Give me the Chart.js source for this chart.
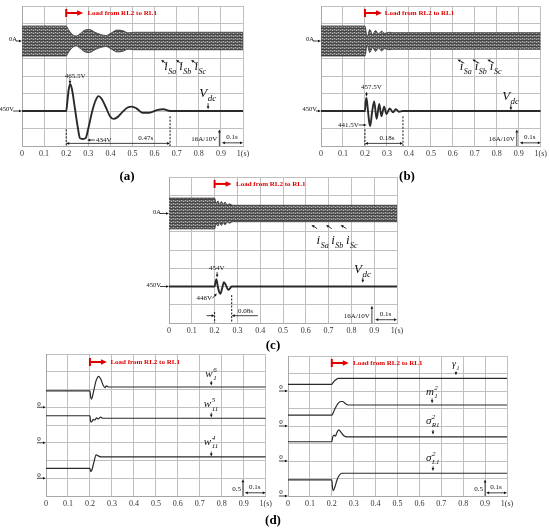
<!DOCTYPE html>
<html><head><meta charset="utf-8">
<script src="https://cdn.jsdelivr.net/npm/chart.js@4.4.1/dist/chart.umd.min.js"></script>
<style>
body{margin:0;background:#fff;}
#wrap{position:relative;width:550px;height:529px;overflow:hidden;}
canvas{position:absolute;}
.lab{position:absolute;font:bold 13px "Liberation Serif",serif;color:#000;transform:translate(-50%,-50%);z-index:5;}
</style></head><body>
<div id="wrap">
<canvas id="ca" width="275" height="162" style="left:0;top:0"></canvas>
<canvas id="cb" width="275" height="162" style="left:275px;top:0"></canvas>
<canvas id="cc" width="290" height="175" style="left:130px;top:165px"></canvas>
<canvas id="cd1" width="275" height="170" style="left:0;top:345px"></canvas>
<canvas id="cd2" width="275" height="170" style="left:275px;top:345px"></canvas>
<div class="lab" style="left:127px;top:176px">(a)</div>
<div class="lab" style="left:407px;top:176px">(b)</div>
<div class="lab" style="left:273px;top:345px">(c)</div>
<div class="lab" style="left:273px;top:520px">(d)</div>
</div>
<script>
// ---------- DATA ----------
const tickLabels = ['0','0.1','0.2','0.3','0.4','0.5','0.6','0.7','0.8','0.9','1(s)'];
const loadText = 'Load from RL2 to RL1';

// (a) DC-link voltage (V) and source-current envelope amplitude (A)
const tVa  = [0,0.2,0.205,0.211,0.218,0.226,0.24,0.252,0.262,0.275,0.288,0.3,0.318,0.333,0.346,0.36,0.38,0.398,0.414,0.432,0.455,0.478,0.497,0.518,0.545,0.575,0.61,0.64,0.67,1];
const vdcA = [450,450,455,462,465.5,462.5,451,441,434.5,434,434.5,440,450,456,458.5,457,452,447,445.5,446.5,449.5,452,452.5,451.5,449,449,450.5,451,450,450];
const tIa  = [0,0.2,0.21,0.225,0.245,0.265,0.285,0.305,0.33,0.355,0.38,0.405,0.43,0.455,0.48,0.51,1];
const iA   = [13.7,13.7,10.5,6.5,4.5,7,10,10.5,8,6,5,7.5,10,9.5,7.5,8,8];

// (b)
const tVb  = [0,0.2,0.203,0.207,0.213,0.219,0.224,0.232,0.242,0.253,0.265,0.275,0.287,0.298,0.313,0.328,0.34,0.355,0.37,1];
const vdcB = [450,450,455,457.5,451,444,441.5,449,455.5,445.5,454,447,452.5,448.3,451.5,449.2,451,449.6,450,450];
const tIb  = [0,0.2,0.21,0.222,0.235,0.248,0.262,0.275,0.29,0.31,0.33,1];
const iB   = [13.7,13.7,4,10.5,6,9.5,6.5,9,7,8,7.6,7.6];

// (c)
const tVc  = [0,0.2,0.204,0.208,0.214,0.22,0.225,0.233,0.241,0.25,0.26,0.268,0.275,1];
const vdcC = [450,450,452.5,454,450,447,446,449,452.4,450.5,448.2,449,450,450];
const tIc  = [0,0.2,0.207,0.215,0.222,0.23,0.238,0.246,0.255,0.265,0.28,1];
const iC   = [13.5,13.5,9,11,8,10.5,8,10,7.5,8.5,7.2,7.2];

// (d) left: weights
const tW6 = [0,0.2,0.203,0.207,0.215,0.228,0.24,0.25,0.26,0.268,0.275,0.285,1];
const w16 = [0.46,0.46,0.3,0.23,0.4,0.75,0.87,0.78,0.62,0.55,0.6,0.57,0.57];
const tW5 = [0,0.2,0.203,0.208,0.215,0.222,0.23,0.238,0.248,0.258,1];
const w115 = [0.76,0.76,0.6,0.59,0.66,0.64,0.7,0.67,0.72,0.69,0.69];
const tW4 = [0,0.2,0.203,0.208,0.218,0.228,0.24,0.25,1];
const w114 = [0.28,0.28,0.19,0.22,0.45,0.66,0.62,0.6,0.6];

// (d) right
const tG  = [0,0.2,0.205,0.212,0.22,0.23,1];
const gam1 = [0.19,0.19,0.23,0.29,0.33,0.36,0.36];
const tM  = [0,0.2,0.205,0.215,0.228,0.24,0.25,0.262,0.275,1];
const m12 = [0.31,0.31,0.36,0.5,0.64,0.7,0.7,0.64,0.6,0.6];
const tSR = [0,0.2,0.204,0.21,0.216,0.224,0.232,0.242,0.255,0.27,1];
const sR12 = [0.55,0.55,0.68,0.74,0.71,0.82,0.89,0.82,0.72,0.69,0.69];
const tSL = [0,0.2,0.203,0.207,0.215,0.225,0.235,0.245,1];
const sL12 = [0.46,0.46,0.25,0.15,0.28,0.48,0.6,0.65,0.65];

// ---------- HELPERS ----------
const FF = '"Liberation Serif", serif';
const pts = (ts, vs, sign=1) => ts.map((t,i)=>({x:t, y:sign*vs[i]}));

function bandPattern(){
  const c=document.createElement('canvas'); c.width=4; c.height=3;
  const g=c.getContext('2d');
  g.fillStyle='#6a6a6a'; g.fillRect(0,0,4,3);
  g.fillStyle='#444'; g.fillRect(0,1,4,1);
  g.fillStyle='#b4b4b4'; g.fillRect(1,0,1,1); g.fillRect(3,2,1,1);
  return g.createPattern(c,'repeat');
}
const PAT = bandPattern();

function arrow(ctx,x1,y1,x2,y2,h){
  const a=Math.atan2(y2-y1,x2-x1), c=Math.cos(a), s=Math.sin(a);
  ctx.beginPath(); ctx.moveTo(x1,y1); ctx.lineTo(x2-c*h*0.7, y2-s*h*0.7); ctx.stroke();
  ctx.beginPath(); ctx.moveTo(x2,y2);
  ctx.lineTo(x2-h*c+h*0.45*s, y2-h*s-h*0.45*c);
  ctx.lineTo(x2-h*c-h*0.45*s, y2-h*s+h*0.45*c);
  ctx.closePath(); ctx.fill();
}
function sym(ctx,cx,y,b,sub,sup,fs,r){
  r=r||0.62;
  const f1=`italic ${fs}px ${FF}`, f2=`italic ${Math.round(fs*r)}px ${FF}`;
  ctx.font=f1; const wb=ctx.measureText(b).width;
  ctx.font=f2; const ws=Math.max(sub?ctx.measureText(sub).width:0, sup?ctx.measureText(sup).width:0);
  const x=cx-(wb+ws+1)/2;
  ctx.textAlign='left'; ctx.textBaseline='alphabetic';
  ctx.font=f1; ctx.fillText(b,x,y);
  ctx.font=f2;
  if(sub) ctx.fillText(sub,x+wb+0.5,y+fs*0.3);
  if(sup) ctx.fillText(sup,x+wb+0.5,y-fs*0.45);
}

function annoPlugin(items){
  return {id:'anno', afterDatasetsDraw(chart){
    const ctx=chart.ctx, ca=chart.chartArea, xs=chart.scales.x;
    const X=t=>xs.getPixelForValue(t), Y=d=>ca.top+d*(ca.bottom-ca.top)/8;
    ctx.save();
    for(const it of items){
      ctx.fillStyle='#111'; ctx.strokeStyle='#111'; ctx.lineWidth=0.8; ctx.setLineDash([]);
      if(it.k==='txt'){
        ctx.font=`${it.f||7}px ${FF}`; ctx.textAlign=it.al||'center'; ctx.textBaseline='middle';
        ctx.fillText(it.s, X(it.t), Y(it.d));
      } else if(it.k==='arr'){
        arrow(ctx,X(it.t1),Y(it.d1),X(it.t2),Y(it.d2),it.h||3);
      } else if(it.k==='arr2'){
        const y=Y(it.d); arrow(ctx,(X(it.t1)+X(it.t2))/2,y,X(it.t2),y,3); arrow(ctx,(X(it.t1)+X(it.t2))/2,y,X(it.t1),y,3);
      } else if(it.k==='dash'){
        ctx.setLineDash([2,1.5]); ctx.lineWidth=1;
        ctx.beginPath(); ctx.moveTo(X(it.t),Y(it.d1)); ctx.lineTo(X(it.t),Y(it.d2)); ctx.stroke();
      } else if(it.k==='sym'){
        sym(ctx,X(it.t),Y(it.d),it.b,it.sub,it.sup,it.fs,it.r);
      } else if(it.k==='edge'){
        const y=Y(it.d);
        ctx.font=`6.5px ${FF}`; ctx.textAlign='right'; ctx.textBaseline='middle';
        ctx.fillText(it.s, ca.left-it.gap, y-1.5);
        arrow(ctx, ca.left-it.gap-1, y, ca.left, y, 3);
      } else if(it.k==='zero'){
        const y=Y(it.d);
        ctx.font=`7px ${FF}`; ctx.textAlign='center'; ctx.textBaseline='middle';
        ctx.fillText('0', ca.left-7, y-3.5);
        arrow(ctx, ca.left-9, y, ca.left, y, 3);
      } else if(it.k==='load'){
        const x=X(it.t), y=Y(it.d);
        ctx.fillStyle='#e00000'; ctx.strokeStyle='#e00000'; ctx.lineWidth=2;
        ctx.beginPath(); ctx.moveTo(x,y-4); ctx.lineTo(x,y+4); ctx.stroke();
        arrow(ctx,x,y,x+17,y,6);
        ctx.font=`bold 7px ${FF}`; ctx.textAlign='left'; ctx.textBaseline='middle';
        ctx.fillText(loadText, X(it.tx), y);
      } else if(it.k==='scale'){
        const xv=X(it.tv);
        arrow(ctx,xv,Y(8),xv,Y(7.05),3);
        ctx.font=`7px ${FF}`; ctx.textAlign='right'; ctx.textBaseline='middle';
        ctx.fillText(it.s, xv-2, Y(7.62));
        const yh=Y(7.82);
        arrow(ctx,X(0.95),yh,X(1),yh,3); arrow(ctx,X(0.95),yh,X(0.9)+1,yh,3);
        ctx.textAlign='center'; ctx.fillText('0.1s', X(0.95), Y(7.5));
      }
    }
    ctx.restore();
  }};
}

function makeScope(id, pad, yAxes, datasets, items){
  const scales = {x:{type:'linear', min:0, max:1,
    ticks:{stepSize:0.1, autoSkip:false, maxRotation:0, padding:3, color:'#333',
      font:{family:'Liberation Serif', size:8}, callback:(v,i)=>tickLabels[i]},
    grid:{color:'#c0c0c0', drawTicks:false, lineWidth:1}, border:{color:'#a8a8a8'},
    afterFit:s=>{s.height=14;}}};
  Object.entries(yAxes).forEach(([k,[mn,mx,st]],idx)=>{
    scales[k]={type:'linear', position:'left', min:mn, max:mx, display: idx===0,
      ticks:{stepSize:st, display:false}, grid:{color:'#c0c0c0', drawTicks:false, lineWidth:1},
      border:{color:'#a8a8a8'}, afterFit:s=>{s.width=0;}};
  });
  return new Chart(document.getElementById(id), {type:'line', data:{datasets},
    options:{responsive:false, animation:false, events:[], layout:{padding:pad},
      plugins:{legend:{display:false}, tooltip:{enabled:false}}, scales,
      elements:{point:{radius:0}}},
    plugins:[annoPlugin(items)]});
}

function scopeSets(tI, amp, tV, vdc){
  return [
    {data:pts(tI,amp), yAxisID:'yI', borderColor:'#333', borderWidth:0.8, fill:false, cubicInterpolationMode:'monotone'},
    {data:pts(tI,amp,-1), yAxisID:'yI', borderColor:'#333', borderWidth:0.8, fill:'-1', backgroundColor:PAT, cubicInterpolationMode:'monotone'},
    {data:pts(tV,vdc), yAxisID:'yV', borderColor:'#2a2a2a', borderWidth:1.9, fill:false, cubicInterpolationMode:'monotone'}
  ];
}
const scopeAxes = {yV:[430,510,10], yI:[-96,32,16]};
const iLabels = (t0, dt, d, tail, tip) => {
  const out=[];
  ['Sa','Sb','Sc'].forEach((s,j)=>{
    out.push({k:'sym', t:t0+j*dt, d:d, b:'i', sub:s, fs:13, r:0.6});
    out.push({k:'arr', t1:tail[0]+j*dt, d1:tail[1], t2:tip[0]+j*dt, d2:tip[1]});
  });
  return out;
};

// (a)
makeScope('ca', {left:22,right:32,top:6,bottom:2}, scopeAxes, scopeSets(tIa,iA,tVa,vdcA), [
  {k:'load', t:0.2, d:0.4, tx:0.296},
  {k:'edge', d:2, s:'0A', gap:5},
  {k:'edge', d:6, s:'450V', gap:8},
  ...iLabels(0.672, 0.068, 3.66, [0.656,3.31], [0.629,3.09]),
  {k:'txt', t:0.24, d:4.0, s:'465.5V'},
  {k:'arr', t1:0.217, d1:4.15, t2:0.217, d2:4.45},
  {k:'txt', t:0.335, d:7.66, s:'434V', al:'left'},
  {k:'arr', t1:0.33, d1:7.66, t2:0.295, d2:7.66},
  {k:'sym', t:0.842, d:5.2, b:'V', sub:'dc', fs:13, r:0.7},
  {k:'arr', t1:0.842, d1:5.55, t2:0.842, d2:5.9},
  {k:'dash', t:0.2, d1:7.05, d2:8},
  {k:'dash', t:0.67, d1:6.3, d2:8},
  {k:'arr2', t1:0.2, t2:0.67, d:7.85},
  {k:'txt', t:0.56, d:7.55, s:'0.47s'},
  {k:'scale', s:'16A/10V', tv:0.893}
]);

// (b)
makeScope('cb', {left:46,right:8,top:6,bottom:2}, scopeAxes, scopeSets(tIb,iB,tVb,vdcB), [
  {k:'load', t:0.2, d:0.4, tx:0.29},
  {k:'edge', d:2, s:'0A', gap:7},
  {k:'edge', d:6, s:'450V', gap:4},
  ...iLabels(0.66, 0.068, 3.66, [0.652,3.27], [0.621,3.05]),
  {k:'txt', t:0.229, d:4.65, s:'457.5V'},
  {k:'arr', t1:0.207, d1:4.92, t2:0.207, d2:5.17},
  {k:'txt', t:0.172, d:6.8, s:'441.5V', al:'right'},
  {k:'arr', t1:0.172, d1:6.8, t2:0.208, d2:6.8},
  {k:'sym', t:0.864, d:5.37, b:'V', sub:'dc', fs:13, r:0.7},
  {k:'arr', t1:0.864, d1:5.62, t2:0.864, d2:5.95},
  {k:'dash', t:0.2, d1:7.05, d2:8},
  {k:'dash', t:0.373, d1:6.3, d2:8},
  {k:'arr2', t1:0.2, t2:0.373, d:7.85},
  {k:'txt', t:0.3, d:7.55, s:'0.18s'},
  {k:'scale', s:'16A/10V', tv:0.891}
]);

// (c)
makeScope('cc', {left:39,right:23,top:12,bottom:3}, scopeAxes, scopeSets(tIc,iC,tVc,vdcC), [
  {k:'load', t:0.2, d:0.38, tx:0.294},
  {k:'edge', d:2, s:'0A', gap:8},
  {k:'edge', d:6, s:'450V', gap:8},
  ...iLabels(0.675, 0.064, 3.67, [0.65,2.83], [0.625,2.63]),
  {k:'txt', t:0.21, d:4.98, s:'454V'},
  {k:'arr', t1:0.211, d1:5.2, t2:0.211, d2:5.5},
  {k:'txt', t:0.189, d:6.65, s:'446V', al:'right'},
  {k:'arr', t1:0.19, d1:6.65, t2:0.21, d2:6.38},
  {k:'sym', t:0.85, d:5.26, b:'V', sub:'dc', fs:13, r:0.7},
  {k:'arr', t1:0.85, d1:5.5, t2:0.85, d2:5.8},
  {k:'dash', t:0.2, d1:7.4, d2:8},
  {k:'dash', t:0.275, d1:6.47, d2:8},
  {k:'arr', t1:0.165, d1:7.6, t2:0.2, d2:7.6},
  {k:'arr', t1:0.39, d1:7.6, t2:0.275, d2:7.6},
  {k:'txt', t:0.335, d:7.35, s:'0.08s'},
  {k:'scale', s:'16A/10V', tv:0.89}
]);

// (d) left
const lineDs = (ts, vs, ax) => ({data:pts(ts,vs), yAxisID:ax, borderColor:'#2a2a2a', borderWidth:1.2, fill:false, cubicInterpolationMode:'monotone'});
makeScope('cd1', {left:46,right:7,top:9,bottom:5},
  {yA:[-2.5,1.5,0.5], yB:[-1.5,2.5,0.5], yC:[-0.5,3.5,0.5]},
  [lineDs(tW6,w16,'yA'), lineDs(tW5,w115,'yB'), lineDs(tW4,w114,'yC')], [
  {k:'load', t:0.2, d:0.45, tx:0.293},
  {k:'zero', d:3}, {k:'zero', d:5}, {k:'zero', d:7},
  {k:'sym', t:0.752, d:1.28, b:'w', sub:'1', sup:'6', fs:11},
  {k:'arr', t1:0.752, d1:1.52, t2:0.752, d2:1.78},
  {k:'sym', t:0.752, d:3.0, b:'w', sub:'11', sup:'5', fs:11},
  {k:'arr', t1:0.752, d1:3.3, t2:0.752, d2:3.58},
  {k:'sym', t:0.752, d:5.13, b:'w', sub:'11', sup:'4', fs:11},
  {k:'arr', t1:0.752, d1:5.5, t2:0.752, d2:5.78},
  {k:'scale', s:'0.5', tv:0.896}
]);

// (d) right
makeScope('cd2', {left:13,right:43,top:11,bottom:5},
  {yG:[-3,1,0.5], yM:[-2,2,0.5], yR:[-1,3,0.5], yL:[0,4,0.5]},
  [lineDs(tG,gam1,'yG'), lineDs(tM,m12,'yM'), lineDs(tSR,sR12,'yR'), lineDs(tSL,sL12,'yL')], [
  {k:'load', t:0.2, d:0.4, tx:0.297},
  {k:'zero', d:2}, {k:'zero', d:4}, {k:'zero', d:6}, {k:'zero', d:8},
  {k:'sym', t:0.767, d:0.62, b:'γ', sub:'1', fs:10},
  {k:'arr', t1:0.767, d1:0.88, t2:0.767, d2:1.1},
  {k:'sym', t:0.658, d:2.23, b:'m', sub:'1', sup:'2', fs:11},
  {k:'arr', t1:0.658, d1:2.42, t2:0.658, d2:2.7},
  {k:'sym', t:0.662, d:3.89, b:'σ', sub:'R1', sup:'2', fs:11},
  {k:'arr', t1:0.662, d1:4.22, t2:0.662, d2:4.48},
  {k:'sym', t:0.662, d:6.0, b:'σ', sub:'L1', sup:'2', fs:11},
  {k:'arr', t1:0.662, d1:6.3, t2:0.662, d2:6.57},
  {k:'scale', s:'0.5', tv:0.9}
]);
</script>
</body></html>
